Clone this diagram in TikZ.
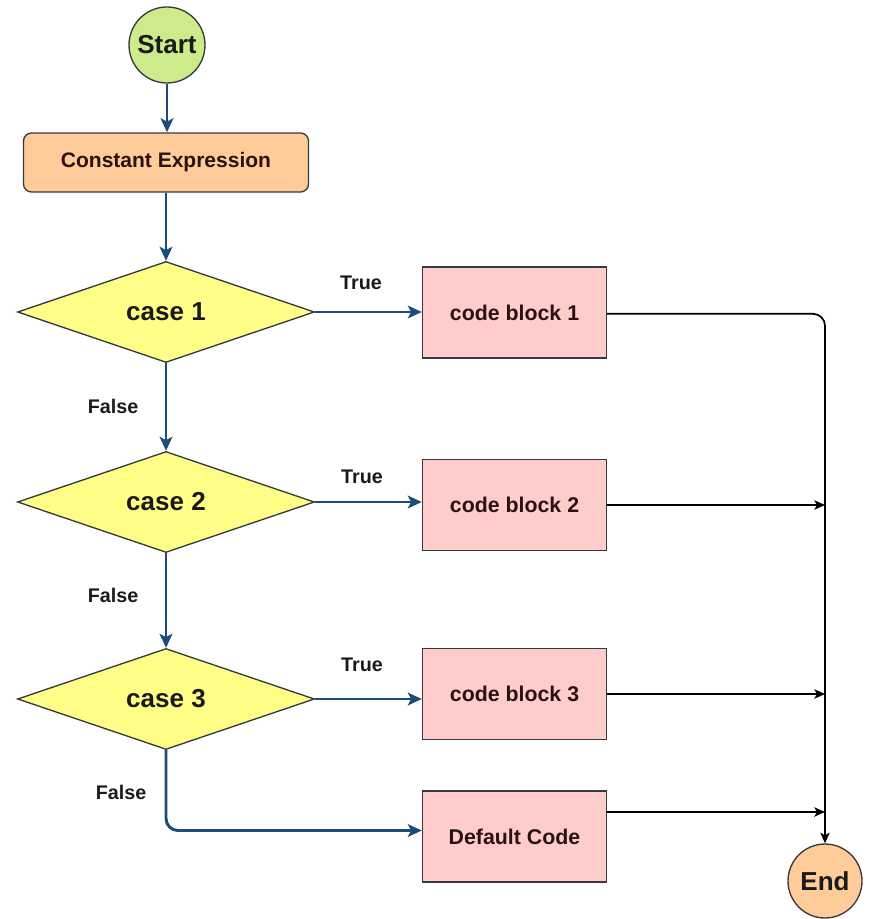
\documentclass[tikz,border=0pt]{standalone}
\usepackage{fontspec}
\setmainfont{Liberation Sans}
\usetikzlibrary{shapes.geometric,arrows.meta}

\definecolor{strokegray}{HTML}{36393D}
\definecolor{startgreen}{HTML}{CDEB8B}
\definecolor{peach}{HTML}{FFCC99}
\definecolor{lemon}{HTML}{FFFF88}
\definecolor{blush}{HTML}{FFCCCC}
\definecolor{flowblue}{HTML}{1D4B7A}
\definecolor{inkdark}{HTML}{1A1A1A}
\definecolor{inkbox}{HTML}{2A1212}

\tikzset{
  shapebase/.style={draw=strokegray, line width=1pt, font=\bfseries, inner sep=0pt},
  terminal/.style={shapebase, circle, minimum size=#1, text=inkdark, font=\bfseries\fontsize{19.5}{22}\selectfont},
  exprbox/.style={shapebase, rectangle, rounded corners=6pt, fill=peach,
    minimum width=213.75pt, minimum height=44.25pt, text=inkbox,
    font=\bfseries\fontsize{15.75}{18}\selectfont},
  decision/.style={shapebase, diamond, fill=lemon, minimum width=222.75pt,
    minimum height=75.75pt, text=inkdark, font=\bfseries\fontsize{19.5}{22}\selectfont},
  codebox/.style={shapebase, rectangle, fill=blush, minimum width=138pt,
    minimum height=68.25pt, text=inkbox, font=\bfseries\fontsize{16}{19}\selectfont},
  edgelabel/.style={text=inkdark, font=\bfseries\fontsize{14.8}{17}\selectfont, inner sep=0pt},
  blueflow/.style={draw=flowblue, line width=2.2pt,
    -{Stealth[length=10.5pt, width=9.5pt, inset=2.5pt]}},
  blackflow/.style={draw=black, line width=1.3pt,
    -{Stealth[length=8pt, width=7pt, inset=2pt]}},
}

\begin{document}
\begin{tikzpicture}[x=0.75pt, y=-0.75pt]
  \useasboundingbox (0,0) rectangle (868,919);

  % shapes
  \node[terminal=57pt, fill=startgreen] (start) at (167,45) {Start};
  \node[exprbox] (expr) at (166,162.5) {Constant Expression};
  \node[decision] (c1) at (166,312) {case 1};
  \node[decision] (c2) at (166,502) {case 2};
  \node[decision] (c3) at (166,699) {case 3};
  \node[codebox] (b1) at (514.5,312.5) {code block 1};
  \node[codebox] (b2) at (514.5,505) {code block 2};
  \node[codebox] (b3) at (514.5,694) {code block 3};
  \node[codebox] (dflt) at (514.5,836.5) {Default Code};
  \node[terminal=55.5pt, fill=peach] (end) at (825,881) {End};

  % main flow
  \draw[blueflow] (start.south) -- (start.south |- expr.north);
  \draw[blueflow] (expr.south -| c1.north) -- (c1.north);
  \draw[blueflow] (c1.south) -- (c2.north);
  \draw[blueflow] (c2.south) -- (c3.north);

  % true branches
  \draw[blueflow] (c1.east) -- (c1.east -| b1.west);
  \draw[blueflow] (c2.east) -- (c2.east -| b2.west);
  \draw[blueflow] (c3.east) -- (c3.east -| b3.west);

  % default branch
  \draw[blueflow, rounded corners=9pt] (c3.south) |- ([yshift=4.5pt]dflt.west);

  % merge towards End
  \draw[black, line width=1.3pt, rounded corners=9pt,
        -{Stealth[length=8pt, width=7pt, inset=2pt]}]
        ([yshift=-1pt]b1.east) -| (end.north);
  \draw[blackflow] (b2.east) -- (b2.east -| end.north);
  \draw[blackflow] (b3.east) -- (b3.east -| end.north);
  \draw[blackflow] ([yshift=18.4pt]dflt.east) -- ([yshift=18.4pt]dflt.east -| end.north);

  % branch labels
  \node[edgelabel] (t1) at (361,283) {True};
  \node[edgelabel] (t2) at (362,477) {True};
  \node[edgelabel] (t3) at (362,665) {True};
  \node[edgelabel] (f1) at (113,406) {False};
  \node[edgelabel] (f2) at (113,595) {False};
  \node[edgelabel] (f3) at (121,792) {False};
\end{tikzpicture}
\end{document}
